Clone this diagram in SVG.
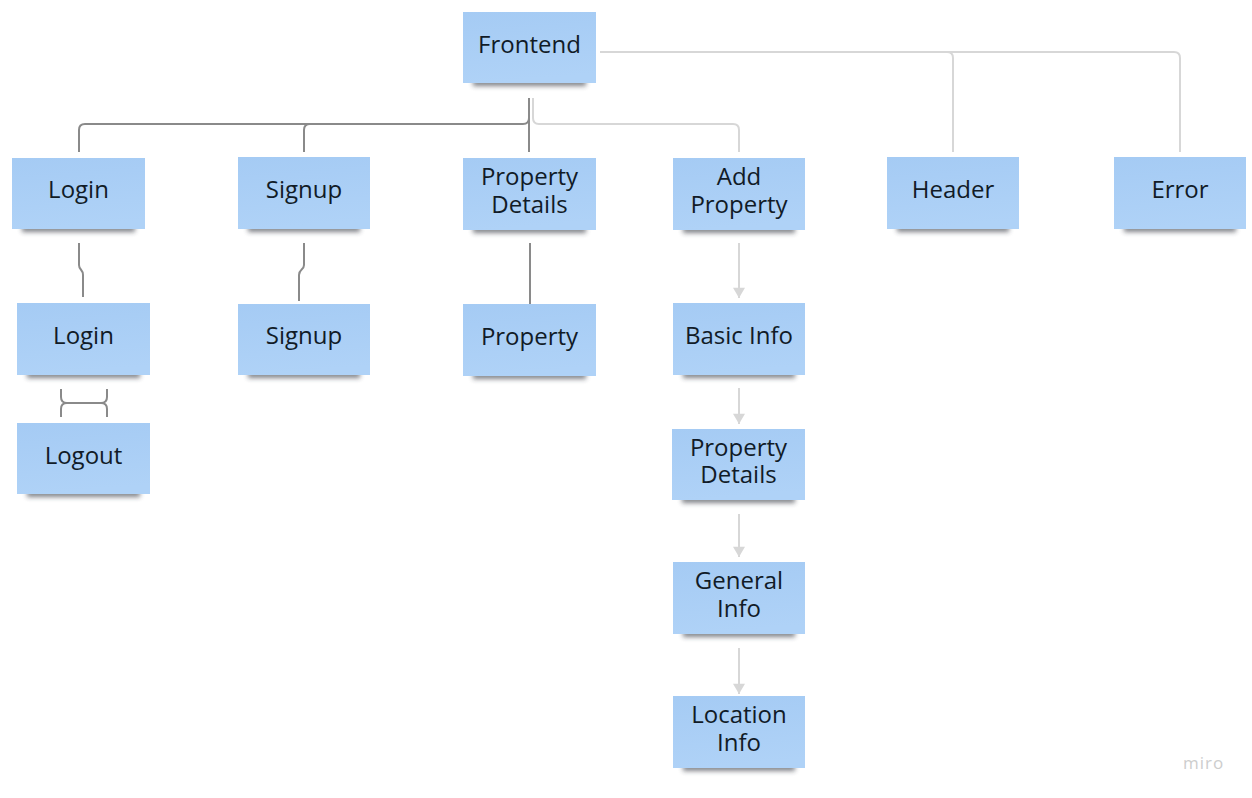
<svg xmlns="http://www.w3.org/2000/svg" width="1252" height="798" viewBox="0 0 1252 798">
<style>
.note{fill:url(#ng)}
.sh{fill:#2a2f38;opacity:0.6;filter:url(#blur)}
.t{font-family:"Open Sans","Noto Sans",sans-serif;font-size:24px;fill:#111b27;text-anchor:middle}
.dk{fill:none;stroke:#8a8a8a;stroke-width:2}
.lt{fill:none;stroke:#d7d7d7;stroke-width:2}
.ar{fill:none;stroke:#d7d7d7;stroke-width:2;marker-end:url(#ah)}
.logo{font-family:"Open Sans","Noto Sans",sans-serif;font-size:17px;fill:#cdcdcd;letter-spacing:1px}
</style>
<defs>
<linearGradient id="ng" x1="0" y1="0" x2="0.15" y2="1">
<stop offset="0" stop-color="#a5cbf4"/>
<stop offset="1" stop-color="#afd2f7"/>
</linearGradient>
<filter id="blur" x="-20%" y="-100%" width="140%" height="300%"><feGaussianBlur stdDeviation="2.4"/></filter>
<marker id="ah" markerWidth="14" markerHeight="12" refX="12" refY="7" orient="auto" markerUnits="userSpaceOnUse" viewBox="0 0 14 14">
<path d="M0,0 L12,7 L0,14 Z" fill="#d7d7d7"/>
</marker>
</defs>
<rect width="1252" height="798" fill="#ffffff"/>

<g id="connectors">
<path class="dk" d="M529,98 L529,152"/>
<path class="dk" d="M529,118 Q529,124 523,124 L85,124 Q79,124 79,130 L79,152"/>
<path class="dk" d="M310,124 Q304,124 304,130 L304,152"/>
<path class="lt" d="M533,98 L533,118 Q533,124 539,124 L733,124 Q739,124 739,130 L739,152"/>
<path class="lt" d="M600,52 L1174,52 Q1180,52 1180,58 L1180,152"/>
<path class="lt" d="M947,52 Q953,52 953,58 L953,152"/>
<path class="dk" d="M79,243 L79,265 C79,270 83,269 83,275 L83,297"/>
<path class="dk" d="M304,243 L304,265 C304,270 299,269 299,275 L299,301"/>
<path class="dk" d="M530,243 L530,305"/>
<path class="dk" d="M61,389 L61,397 Q61,403 67,403 L101,403 Q107,403 107,397 L107,389 M61,417 L61,409 Q61,403 67,403 M107,417 L107,409 Q107,403 101,403"/>
<path class="ar" d="M739,243 L739,298"/>
<path class="ar" d="M739,388 L739,424"/>
<path class="ar" d="M739,514 L739,557"/>
<path class="ar" d="M739,648 L739,694"/>
</g>

<g id="frontend"><rect class="sh" x="473" y="79" width="113" height="7"/><rect class="note" x="463" y="12" width="133" height="71"/><text class="t" x="529.5" y="53">Frontend</text></g>
<g id="login"><rect class="sh" x="22" y="225" width="113" height="7"/><rect class="note" x="12" y="158" width="133" height="71"/><text class="t" x="78.5" y="198">Login</text></g>
<g id="signup"><rect class="sh" x="248" y="225" width="112" height="7"/><rect class="note" x="238" y="157" width="132" height="72"/><text class="t" x="304" y="198">Signup</text></g>
<g id="property-details"><rect class="sh" x="473" y="226" width="113" height="7"/><rect class="note" x="463" y="158" width="133" height="72"/><text class="t" x="529.5" y="185">Property<tspan x="529.5" dy="28">Details</tspan></text></g>
<g id="add-property"><rect class="sh" x="683" y="226" width="112" height="7"/><rect class="note" x="673" y="158" width="132" height="72"/><text class="t" x="739" y="185">Add<tspan x="739" dy="28">Property</tspan></text></g>
<g id="header"><rect class="sh" x="897" y="225" width="112" height="7"/><rect class="note" x="887" y="157" width="132" height="72"/><text class="t" x="953" y="198">Header</text></g>
<g id="error"><rect class="sh" x="1124" y="225" width="112" height="7"/><rect class="note" x="1114" y="157" width="132" height="72"/><text class="t" x="1180" y="198">Error</text></g>
<g id="login-page"><rect class="sh" x="27" y="371" width="113" height="7"/><rect class="note" x="17" y="303" width="133" height="72"/><text class="t" x="83.5" y="344">Login</text></g>
<g id="signup-page"><rect class="sh" x="248" y="371" width="112" height="7"/><rect class="note" x="238" y="304" width="132" height="71"/><text class="t" x="304" y="344">Signup</text></g>
<g id="property"><rect class="sh" x="473" y="372" width="113" height="7"/><rect class="note" x="463" y="304" width="133" height="72"/><text class="t" x="529.5" y="345">Property</text></g>
<g id="logout"><rect class="sh" x="27" y="490" width="113" height="7"/><rect class="note" x="17" y="423" width="133" height="71"/><text class="t" x="83.5" y="464">Logout</text></g>
<g id="basic-info"><rect class="sh" x="683" y="371" width="112" height="7"/><rect class="note" x="673" y="303" width="132" height="72"/><text class="t" x="739" y="344">Basic Info</text></g>
<g id="property-details-2"><rect class="sh" x="682" y="496" width="113" height="7"/><rect class="note" x="672" y="429" width="133" height="71"/><text class="t" x="738.5" y="456">Property<tspan x="738.5" dy="27">Details</tspan></text></g>
<g id="general-info"><rect class="sh" x="683" y="630" width="112" height="7"/><rect class="note" x="673" y="562" width="132" height="72"/><text class="t" x="739" y="589">General<tspan x="739" dy="28">Info</tspan></text></g>
<g id="location-info"><rect class="sh" x="683" y="764" width="112" height="7"/><rect class="note" x="673" y="696" width="132" height="72"/><text class="t" x="739" y="723">Location<tspan x="739" dy="28">Info</tspan></text></g>

<text class="logo" x="1183" y="769">miro</text>
</svg>
